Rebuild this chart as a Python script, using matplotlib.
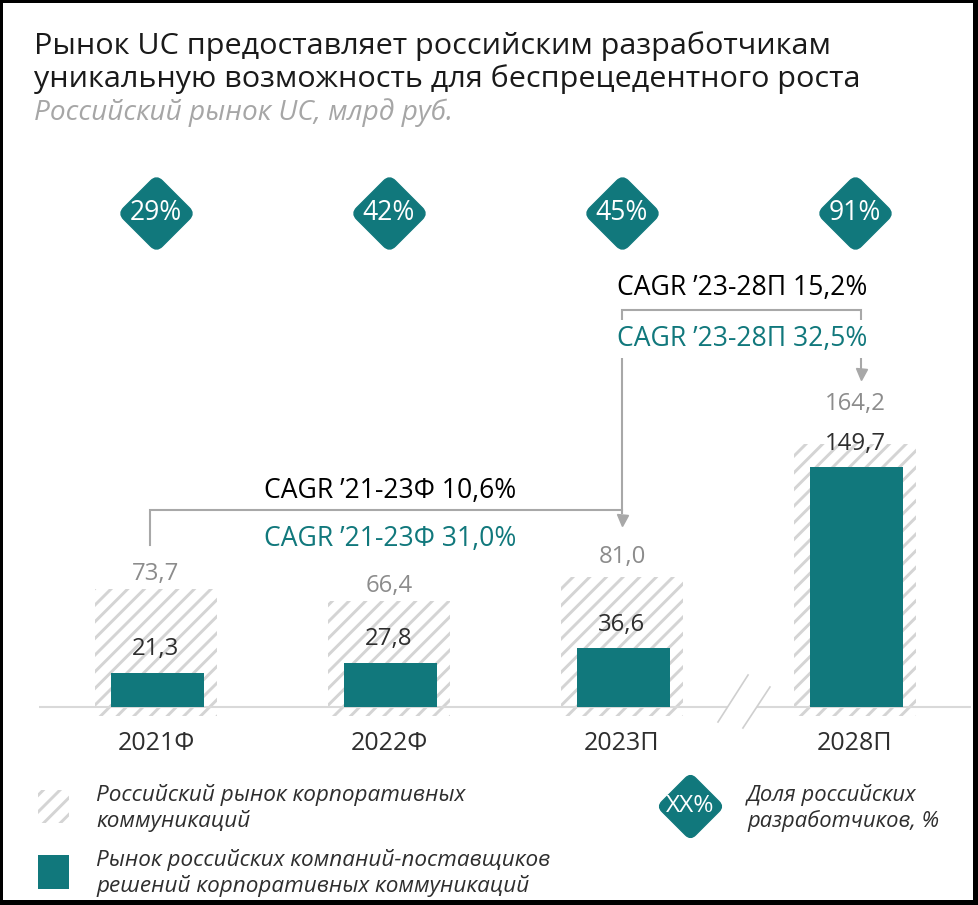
import numpy as np
import matplotlib
matplotlib.use('Agg')
import matplotlib.pyplot as plt
from matplotlib.path import Path
from matplotlib.patches import Rectangle

# ---------------- data ----------------
years = ['2021Ф', '2022Ф', '2023П', '2028П']
market_total = [73.7, 66.4, 81.0, 164.2]      # Российский рынок корпоративных коммуникаций
market_ru = [21.3, 27.8, 36.6, 149.7]         # Рынок российских компаний-поставщиков
share_ru = ['29%', '42%', '45%', '91%']       # Доля российских разработчиков
cagr_total = ['CAGR ’21-23Ф 10,6%', 'CAGR ’23-28П 15,2%']
cagr_ru = ['CAGR ’21-23Ф 31,0%', 'CAGR ’23-28П 32,5%']

title_lines = ['Рынок UC предоставляет российским разработчикам',
               'уникальную возможность для беспрецедентного роста']
subtitle = 'Российский рынок UC, млрд руб.'
legend_total = ['Российский рынок корпоративных', 'коммуникаций']
legend_ru = ['Рынок российских компаний-поставщиков', 'решений корпоративных коммуникаций']
legend_share = ['Доля российских', 'разработчиков, %']
legend_share_mark = 'XX%'

# ---------------- style ----------------
W, H = 979, 905
TEAL = '#11787c'
GRAY_TXT = '#8c8c8c'
DARK = '#2e2e2e'
LINE_GRAY = '#a8a8a8'
HATCH_GRAY = '#d4d4d4'
FONT = 'Open Sans'
PX = 1.6            # pixels per value unit
BASE_PX = 707
AX_TOP, AX_BOT = 160, 770

plt.rcParams['font.family'] = [FONT, 'DejaVu Sans']
plt.rcParams['hatch.linewidth'] = 2.1

def pt(px):
    return px * 0.72

def d(py):
    return (BASE_PX - py) / PX

def fx(px):
    return px / W

def fy(py):
    return 1 - py / H

def fmt(v):
    return f'{v:.1f}'.replace('.', ',')

fig = plt.figure(figsize=(W / 100, H / 100), dpi=100)
fig.patch.set_facecolor('white')

ax = fig.add_axes([fx(39.5), fy(AX_BOT), 932 / W, (AX_BOT - AX_TOP) / H])
ax.set_xlim(-0.5, 3.5)
ax.set_ylim(d(AX_BOT), d(AX_TOP))
ax.axis('off')

x = np.arange(len(years))
hatch_bottom = d(716)
ax.bar(x, np.array(market_total) - hatch_bottom, bottom=hatch_bottom, width=0.52,
       color='white', edgecolor=HATCH_GRAY, hatch='//', linewidth=0, zorder=1)
ax.bar(x + 0.006, market_ru, width=0.40, color=TEAL, linewidth=0, zorder=3)

# baseline with axis break
ax.plot([-0.5, 2.453], [0, 0], color='#d9d9d9', lw=1.5, zorder=2, solid_capstyle='butt')
ax.plot([2.578, 3.5], [0, 0], color='#d9d9d9', lw=1.5, zorder=2, solid_capstyle='butt')
ax.plot([2.412, 2.541], [d(722), d(675)], color='#cfcfcf', lw=1.2, zorder=2)
ax.plot([2.519, 2.635], [d(728), d(687)], color='#cfcfcf', lw=1.2, zorder=2)

# value labels
NUM = pt(24)
tot_off = [15, 15, 20, 40]
for i, v in enumerate(market_total):
    ax.annotate(fmt(v), xy=(i, v), xytext=(0, pt(tot_off[i])), textcoords='offset points',
                ha='center', va='center', fontsize=NUM, color=GRAY_TXT, zorder=5)
for i, v in enumerate(market_ru):
    ax.annotate(fmt(v), xy=(i, v), xytext=(0, pt(23.5)), textcoords='offset points',
                ha='center', va='center', fontsize=NUM, color=DARK, zorder=5)
for i, lab in enumerate(years):
    ax.annotate(lab, xy=(i, 0), xytext=(0, pt(-36)), textcoords='offset points',
                ha='center', va='center', fontsize=pt(25), color=DARK, zorder=5)

# rounded diamond marker
r = 0.3
sq = [(-1 + r, -1), (1 - r, -1), (1, -1), (1, -1 + r), (1, 1 - r), (1, 1), (1 - r, 1),
      (-1 + r, 1), (-1, 1), (-1, 1 - r), (-1, -1 + r), (-1, -1), (-1 + r, -1), (-1 + r, -1)]
codes = [Path.MOVETO, Path.LINETO, Path.CURVE3, Path.CURVE3, Path.LINETO, Path.CURVE3, Path.CURVE3,
         Path.LINETO, Path.CURVE3, Path.CURVE3, Path.LINETO, Path.CURVE3, Path.CURVE3, Path.CLOSEPOLY]
c, s = np.cos(np.pi / 4), np.sin(np.pi / 4)
rot = [(c * a - s * b, s * a + c * b) for a, b in sq]
DIAMOND = Path(rot, codes)

dy = d(213)
ax.plot(x, [dy] * len(x), ls='none', marker=DIAMOND, ms=pt(77), color=TEAL, zorder=4)
for i, lab in enumerate(share_ru):
    ax.text(i, dy, lab, ha='center', va='center', fontsize=pt(26.5), color='white', zorder=5)

# CAGR brackets
ax.plot([-0.026, -0.026, 2.0, 2.0], [d(545), d(510), d(510), d(513)],
        color=LINE_GRAY, lw=1.5, zorder=2, solid_joinstyle='miter')
ax.plot([2.0], [d(519.5)], marker='v', ms=pt(11), color=LINE_GRAY, ls='none', zorder=2)
ax.plot([2.0, 2.0, 3.026, 3.026], [d(510), d(310), d(310), d(369)],
        color=LINE_GRAY, lw=1.5, zorder=2, solid_joinstyle='miter')
ax.plot([3.026], [d(374.5)], marker='v', ms=pt(11), color=LINE_GRAY, ls='none', zorder=2)

CG = pt(26.5)
ax.text(1.004, d(491), cagr_total[0], ha='center', va='center', fontsize=CG, color='black', zorder=5)
ax.text(1.004, d(539), cagr_ru[0], ha='center', va='center', fontsize=CG, color=TEAL, zorder=5)
ax.text(2.515, d(288), cagr_total[1], ha='center', va='center', fontsize=CG, color='black', zorder=5)
ax.text(2.515, d(339), cagr_ru[1], ha='center', va='center', fontsize=CG, color=TEAL, zorder=5,
        bbox=dict(boxstyle='square,pad=0.2', fc='white', ec='none'))

# ---------------- titles ----------------
fig.text(fx(34), fy(46), title_lines[0], ha='left', va='center', fontsize=pt(30.5),
         color='#1a1a1a', fontweight='medium')
fig.text(fx(34), fy(79), title_lines[1], ha='left', va='center', fontsize=pt(30.5),
         color='#1a1a1a', fontweight='medium')
fig.text(fx(34), fy(113), subtitle, ha='left', va='center', fontsize=pt(28), color='#a6a6a6',
         style='italic')

# ---------------- legend ----------------
fig.patches.append(Rectangle((fx(38), fy(823)), 31 / W, 33 / H, transform=fig.transFigure,
                             facecolor='white', edgecolor=HATCH_GRAY, hatch='//', linewidth=0))
fig.patches.append(Rectangle((fx(38), fy(889)), 31 / W, 34 / H, transform=fig.transFigure,
                             facecolor=TEAL, edgecolor='none'))
LG = pt(22.5)
for j, line in enumerate(legend_total):
    fig.text(fx(96), fy(795 + 26 * j), line, ha='left', va='center', fontsize=LG,
             color=DARK, style='italic')
for j, line in enumerate(legend_ru):
    fig.text(fx(96), fy(860 + 26 * j), line, ha='left', va='center', fontsize=LG,
             color=DARK, style='italic')
for j, line in enumerate(legend_share):
    fig.text(fx(747), fy(795 + 26 * j), line, ha='left', va='center', fontsize=pt(22),
             color=DARK, style='italic')
lax = fig.add_axes([0, 0, 1, 1], facecolor='none')
lax.set_xlim(0, W)
lax.set_ylim(H, 0)
lax.axis('off')
lax.plot([690], [806], ls='none', marker=DIAMOND, ms=pt(67), color=TEAL)
lax.text(690, 806, legend_share_mark, ha='center', va='center', fontsize=pt(24.5), color='white')

# black frame
lax.add_patch(Rectangle((0, 0), W, H, fill=False, edgecolor='black', linewidth=pt(6)))
lax.add_patch(Rectangle((W - 6, 0), 6, H, facecolor='black', edgecolor='none'))
lax.add_patch(Rectangle((0, H - 5), W, 5, facecolor='black', edgecolor='none'))

fig.savefig('out.png', dpi=100)
